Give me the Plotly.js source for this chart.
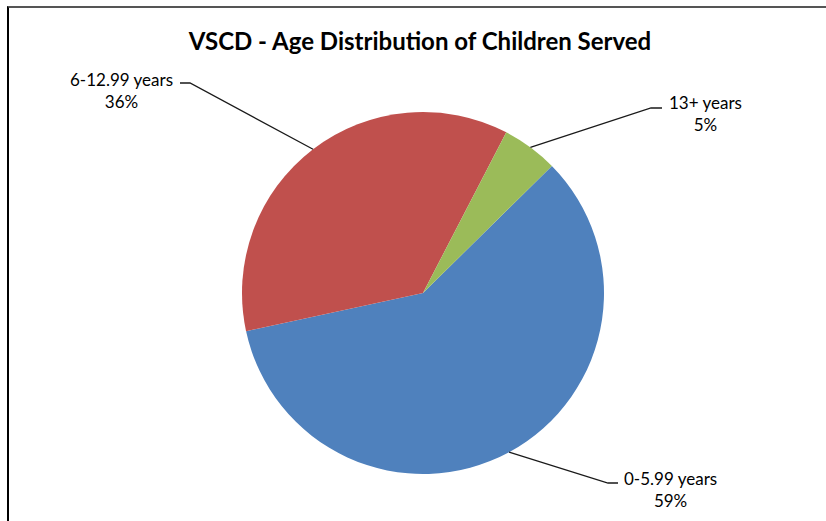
<!DOCTYPE html>
<html>
<head>
<meta charset="utf-8">
<script src="https://cdn.plot.ly/plotly-3.0.1.min.js"></script>
<style>
  html, body { margin: 0; padding: 0; background: #fff; }
  #wrap { position: relative; width: 826px; height: 521px; overflow: hidden; }
  #chart { width: 826px; height: 521px; }
  #frame { position: absolute; left: 7px; top: 6px; right: 0; bottom: 0;
           border-top: 2px solid #555; border-left: 2px solid #000; pointer-events: none; }
</style>
</head>
<body>
<div id="wrap"><div id="chart"></div><div id="frame"></div></div>
<script>
// ---- data ----
const categories = ["0-5.99 years", "6-12.99 years", "13+ years"];
const values = [59, 36, 5];
const colors = ["#4F81BD", "#C0504D", "#9BBB59"];
const chartTitle = "VSCD - Age Distribution of Children Served";

// ---- layout parameters (pixels) ----
const W = 826, H = 521;
const cx = 423, cy = 293, R = 181;
const rotation = 45.4; // first slice starts here, clockwise
// label elbow points (pixels) where leader lines meet labels
const elbows = [[608, 483], [190, 83], [651, 108]];
const labelCenters = [[670, 489], [122, 91], [705, 114]];
const elbowLen = [10, -10, 11]; // horizontal stub toward the text

const px = x => x / W;
const py = y => 1 - y / H;

const total = values.reduce((a, b) => a + b, 0);
let cum = 0;
const shapes = [];
const annotations = [];
values.forEach((v, i) => {
  const mid = rotation + 360 * (cum + v / 2) / total;
  cum += v;
  const a = mid * Math.PI / 180;
  const ex = cx + R * Math.sin(a), ey = cy - R * Math.cos(a);
  const [bx, by] = elbows[i];
  const hx = bx + elbowLen[i];
  shapes.push({
    type: "path", xref: "paper", yref: "paper",
    path: `M${px(ex)},${py(ey)} L${px(bx)},${py(by)} L${px(hx)},${py(by)}`,
    line: { color: "#1a1a1a", width: 1.3 }
  });
  const pct = Math.round(100 * v / total) + "%";
  annotations.push({
    xref: "paper", yref: "paper",
    x: px(labelCenters[i][0]), y: py(labelCenters[i][1]),
    xanchor: "center", yanchor: "middle", align: "center",
    showarrow: false,
    text: categories[i] + "<br>" + pct,
    font: { family: "Lato, 'Open Sans', sans-serif", size: 17, color: "#000" }
  });
});

const trace = {
  type: "pie",
  labels: categories,
  values: values,
  sort: false,
  direction: "clockwise",
  rotation: rotation,
  textinfo: "none",
  hoverinfo: "skip",
  marker: { colors: colors, line: { width: 0 } },
  domain: { x: [px(cx - R), px(cx + R)], y: [py(cy + R), py(cy - R)] }
};

const layout = {
  width: W, height: H,
  margin: { l: 0, r: 0, t: 0, b: 0 },
  showlegend: false,
  paper_bgcolor: "#fff",
  title: {
    text: "<b>" + chartTitle + "</b>",
    x: px(cx - 3), xanchor: "center",
    y: py(42), yanchor: "middle",
    xref: "paper", yref: "paper",
    font: { family: "Lato, 'Open Sans', sans-serif", size: 24, color: "#000" }
  },
  shapes: shapes,
  annotations: annotations,
  hovermode: false
};

Plotly.newPlot("chart", [trace], layout, { staticPlot: true, displayModeBar: false });
</script>
</body>
</html>
